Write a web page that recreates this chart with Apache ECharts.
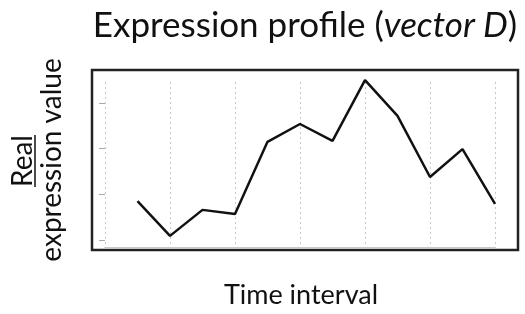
<!DOCTYPE html>
<html>
<head>
<meta charset="utf-8">
<script src="https://cdn.jsdelivr.net/npm/echarts@6/dist/echarts.min.js"></script>
<style>
  html, body { margin: 0; padding: 0; background: #fff; }
  #chart { width: 525px; height: 314px; }
</style>
</head>
<body>
<div id="chart"></div>
<script>
// time points and expression values
var timePoints = [1, 2, 3, 4, 5, 6, 7, 8, 9, 10, 11, 12];
var exprValues = [1.85, 1.09, 1.66, 1.57, 3.15, 3.54, 3.17, 4.50, 3.72, 2.38, 2.99, 1.79];
var yTicks = [1, 2, 3, 4];

var font = 'Lato, "Open Sans", sans-serif';

var chart = echarts.init(document.getElementById('chart'));

var points = [];
for (var i = 0; i < timePoints.length; i++) {
  points.push([timePoints[i], exprValues[i]]);
}

var option = {
  animation: false,
  grid: [
    // outer frame
    { left: 92, top: 70, right: 7, bottom: 64, show: true, borderColor: '#222', borderWidth: 2.5, backgroundColor: '#fff' },
    // data area
    { left: 105, top: 82, right: 30, bottom: 66 }
  ],
  xAxis: [
    { gridIndex: 0, type: 'value', show: false, min: 0, max: 1 },
    {
      gridIndex: 1, type: 'value', min: 0, max: 12, interval: 2,
      axisLine: { show: true, lineStyle: { color: '#c8c8c8', width: 2 } },
      axisTick: { show: false },
      axisLabel: { show: false },
      splitLine: { show: true, lineStyle: { color: '#c8c8c8', type: [2, 3], width: 1 } }
    }
  ],
  yAxis: [
    { gridIndex: 0, type: 'value', show: false, min: 0, max: 1 },
    {
      gridIndex: 1, type: 'value', min: 0.825, max: 4.46, offset: 13,
      axisLine: { show: false },
      axisTick: { show: true, length: 6, customValues: yTicks, lineStyle: { color: '#aaa', width: 1 } },
      axisLabel: { show: false },
      splitLine: { show: false }
    }
  ],
  graphic: [
    {
      type: 'text', x: 305, y: 26,
      style: {
        text: '{n|Expression profile (}{i|vector D}{n|)}',
        align: 'center', verticalAlign: 'middle',
        rich: {
          n: { font: '35px ' + font, fill: '#111' },
          i: { font: 'italic 35px ' + font, fill: '#111' }
        }
      }
    },
    {
      type: 'text', x: 301, y: 295,
      style: { text: 'Time interval', font: '27px ' + font, fill: '#111', align: 'center', verticalAlign: 'middle' }
    },
    {
      type: 'text', x: 23, y: 161, rotation: Math.PI / 2,
      style: { text: 'Real', font: '28px ' + font, fill: '#111', align: 'center', verticalAlign: 'middle' }
    },
    {
      type: 'line', shape: { x1: 35, y1: 135, x2: 35, y2: 187 },
      style: { stroke: '#111', lineWidth: 1.5 }
    },
    {
      type: 'text', x: 52, y: 160, rotation: Math.PI / 2,
      style: { text: 'expression value', font: '28px ' + font, fill: '#111', align: 'center', verticalAlign: 'middle' }
    }
  ],
  series: [
    {
      type: 'line',
      xAxisIndex: 1,
      yAxisIndex: 1,
      data: points,
      clip: false,
      symbol: 'none',
      lineStyle: { color: '#111', width: 2.5 }
    }
  ]
};

chart.setOption(option);
</script>
</body>
</html>
